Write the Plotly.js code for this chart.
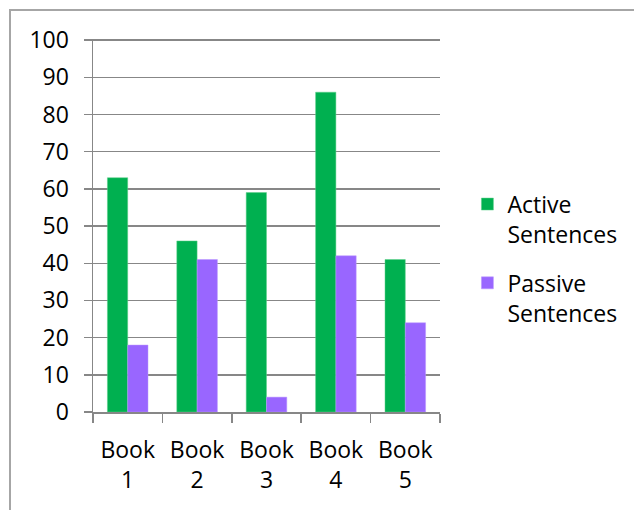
<!DOCTYPE html>
<html>
<head>
<meta charset="utf-8">
<script src="https://cdn.plot.ly/plotly-3.0.1.min.js"></script>
<style>
  html, body { margin: 0; padding: 0; background: #fff; overflow: hidden; }
  #chart { position: absolute; left: 0; top: 0; width: 634px; height: 510px; }
  #frame { position: absolute; left: 9px; top: 9px; width: 700px; height: 600px;
           border: 2px solid #a6a6a6; pointer-events: none; }
</style>
</head>
<body>
<div id="frame"></div>
<div id="chart"></div>
<script>
const categories = ['Book 1', 'Book 2', 'Book 3', 'Book 4', 'Book 5'];
const activeValues = [63, 46, 59, 86, 41];
const passiveValues = [18, 41, 4, 42, 24];
const seriesNames = ['Active<br>Sentences', 'Passive<br>Sentences'];
const yTicks = [0, 10, 20, 30, 40, 50, 60, 70, 80, 90, 100];

const font = 'Open Sans, Lato, sans-serif';
const gray = '#878787';
const fs = 23;

const traces = [
  { type: 'bar', x: categories, y: activeValues, name: seriesNames[0],
    marker: { color: '#00b050', line: { color: '#5fd08a', width: 0.5 } }, legendgroup: 'a' },
  { type: 'bar', x: categories, y: passiveValues, name: seriesNames[1],
    marker: { color: '#9966ff', line: { color: '#bb99ff', width: 0.5 } }, legendgroup: 'b' }
];

const layout = {
  width: 634, height: 510,
  margin: { l: 93, r: 191, t: 39, b: 98 },
  paper_bgcolor: 'rgba(0,0,0,0)', plot_bgcolor: '#fff',
  font: { family: font, size: fs, color: '#000' },
  barmode: 'group', bargap: 0.415, bargroupgap: 0,
  xaxis: {
    type: 'category',
    tickvals: categories,
    ticktext: categories.map(c => c.replace(' ', '<br>')),
    tickson: 'boundaries', ticks: 'outside', ticklen: 9, tickwidth: 1.5, tickcolor: gray,
    ticklabelstandoff: 17,
    showline: true, linecolor: gray, linewidth: 1.5,
    showgrid: false, zeroline: false,
    tickfont: { family: font, size: fs, color: '#000' },
    fixedrange: true
  },
  yaxis: {
    range: [0, 100.3], tickvals: yTicks,
    ticks: 'outside', ticklen: 8, tickwidth: 1.5, tickcolor: gray,
    ticklabelstandoff: 10,
    showline: true, linecolor: gray, linewidth: 1.5,
    showgrid: true, gridcolor: gray, gridwidth: 1.5, zeroline: false,
    tickfont: { family: font, size: fs, color: '#000' },
    fixedrange: true
  },
  legend: {
    x: 1.079, xanchor: 'left', y: 0.615, yanchor: 'top',
    valign: 'top', tracegroupgap: 16, itemwidth: 30,
    font: { family: font, size: fs, color: '#000' },
    bgcolor: 'rgba(0,0,0,0)'
  },
  showlegend: true
};

Plotly.newPlot('chart', traces, layout, { staticPlot: true, displayModeBar: false });
</script>
</body>
</html>
